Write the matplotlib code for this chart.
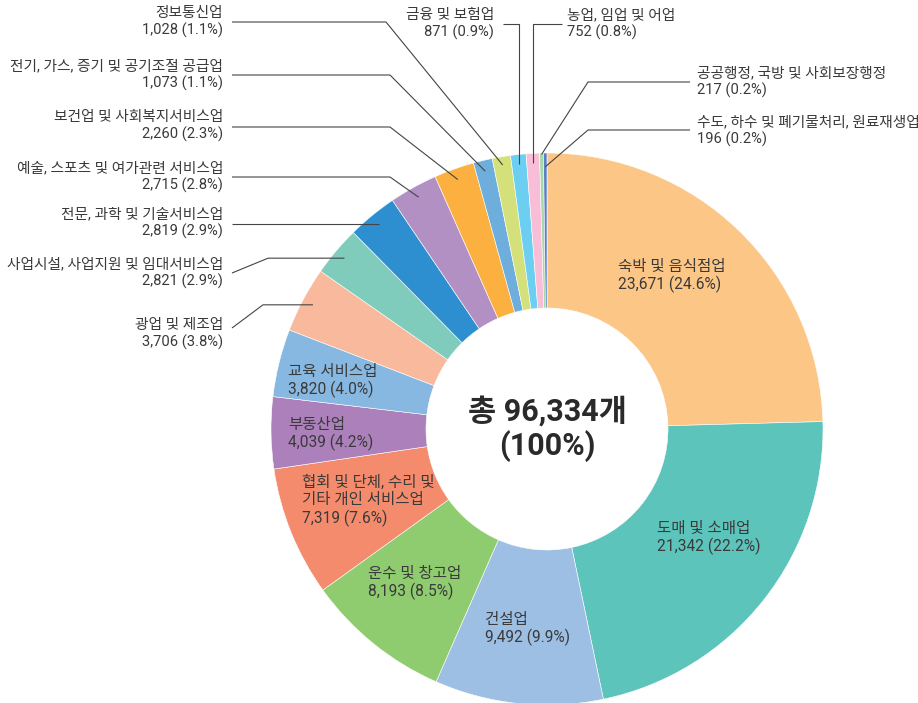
import numpy as np
import matplotlib
matplotlib.use('Agg')
import matplotlib.pyplot as plt

# 숫자는 Roboto, 한글은 Noto Sans CJK KR 로 대체
plt.rcParams['font.family'] = ['Roboto', 'Noto Sans CJK KR', 'DejaVu Sans']

W, H = 918, 703

# 데이터 (시계방향, 12시부터)
categories = ['숙박 및 음식점업', '도매 및 소매업', '건설업', '운수 및 창고업',
              '협회 및 단체, 수리 및\n기타 개인 서비스업', '부동산업', '교육 서비스업',
              '광업 및 제조업', '사업시설, 사업지원 및 임대서비스업',
              '전문, 과학 및 기술서비스업', '예술, 스포츠 및 여가관련 서비스업',
              '보건업 및 사회복지서비스업', '전기, 가스, 증기 및 공기조절 공급업',
              '정보통신업', '금융 및 보험업', '농업, 임업 및 어업',
              '공공행정, 국방 및 사회보장행정', '수도, 하수 및 폐기물처리, 원료재생업']
counts = [23671, 21342, 9492, 8193, 7319, 4039, 3820, 3706, 2821, 2819,
          2715, 2260, 1073, 1028, 871, 752, 217, 196]
shares = [24.6, 22.2, 9.9, 8.5, 7.6, 4.2, 4.0, 3.8, 2.9, 2.9,
          2.8, 2.3, 1.1, 1.1, 0.9, 0.8, 0.2, 0.2]
colors = ['#FCC687', '#5CC4BB', '#9DBFE3', '#8FCB6F', '#F48B6D', '#AC80BA',
          '#87B8E2', '#F8B99C', '#7FCCBD', '#2E8FD0', '#B390C4', '#FBB040',
          '#6DAEDD', '#D4E07A', '#6CCFF2', '#F8BED8', '#A6D8A8', '#5B7FC3']

total = sum(counts)

# 도넛 위치 (픽셀)
cx, cy = 547, 429
R, R_in = 276, 121


def lab(i):
    return f'{categories[i]}\n{counts[i]:,} ({shares[i]:.1f}%)'


fig = plt.figure(figsize=(W / 100, H / 100), dpi=100)
ax = fig.add_axes([0, 0, 1, 1])

wedges, _ = ax.pie(counts, colors=colors, startangle=90, counterclock=False,
                   radius=R, center=(cx, H - cy),
                   wedgeprops=dict(width=R - R_in, edgecolor='white', linewidth=0.4))
ax.set_xlim(0, W)
ax.set_ylim(0, H)
ax.set_aspect('auto')
ax.axis('off')

# 도넛 안쪽 라벨 (왼쪽 정렬)
inner = {0: (618, 276), 1: (657, 538), 2: (485, 629), 3: (368, 583),
         4: (302, 501), 5: (288, 434), 6: (288, 381)}
for i, (x, y) in inner.items():
    ax.text(x, H - y, lab(i), ha='left', va='center', fontsize=11.2,
            color='#3a3a3a', linespacing=1.2)


def mid_point(i, frac):
    w = wedges[i]
    a = np.deg2rad((w.theta1 + w.theta2) / 2)
    return cx + frac * R * np.cos(a), (H - cy) + frac * R * np.sin(a)


# 바깥 라벨: (index, 텍스트 x, y, 정렬, 꺾임점, r비율)
outer = [
    (13, 223, 22, 'right', [(386, 22), (232, 22)], 0.97),
    (12, 223, 75, 'right', [(390, 75), (232, 75)], 0.96),
    (11, 223, 126, 'right', [(390, 127), (232, 127)], 0.96),
    (10, 223, 177, 'right', [(390, 177), (232, 177)], 0.96),
    (9, 223, 223, 'right', [(232, None)], 0.96),
    (8, 223, 273, 'right', [(268, None), (232, 273)], 0.96),
    (7, 223, 334, 'right', [(263, None), (232, 328)], 0.96),
    (14, 494, 24, 'right', [(None, 24), (503, 24)], 0.965),
    (15, 567, 24, 'left', [(None, 24), (562, 24)], 0.965),
    (16, 697, 82, 'left', [(588, 82), (690, 82)], 0.995),
    (17, 697, 131, 'left', [(588, 130), (690, 130)], 0.95),
]
for i, tx, ty, ha, path, frac in outer:
    ex, ey = mid_point(i, frac)
    xs, ys = [ex], [ey]
    for px, py in path:
        xs.append(ex if px is None else px)
        ys.append(ey if py is None else H - py)
    ax.plot(xs, ys, color='#444444', lw=0.8, solid_capstyle='butt')
    ax.text(tx, H - ty, lab(i), ha=ha, va='center', fontsize=10.6,
            color='#3a3a3a', linespacing=1.25, multialignment=ha)

# 가운데 합계
ax.text(cx, H - cy, f'총 {total:,}개\n(100%)', ha='center', va='center',
        fontsize=22, fontweight='bold', color='#2a2a2a', linespacing=1.15)

plt.savefig('out.png', dpi=100)
